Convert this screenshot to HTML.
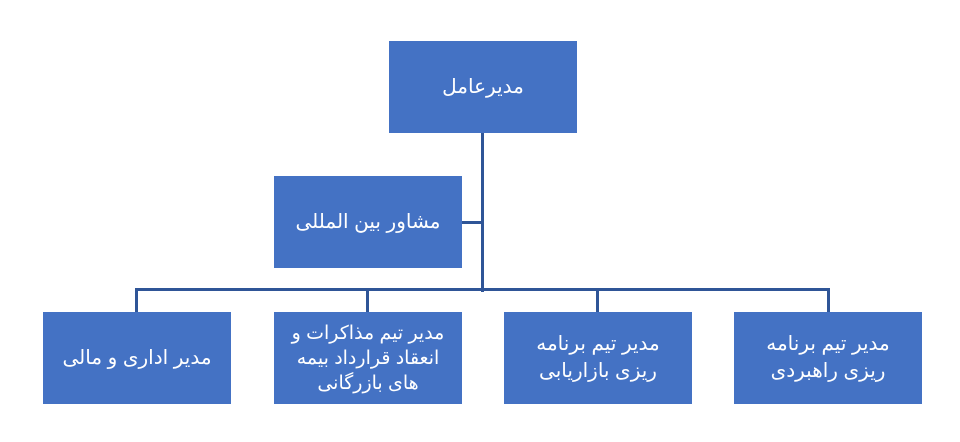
<!DOCTYPE html>
<html><head><meta charset="utf-8"><style>
body{margin:0;width:960px;height:442px;background:#fff;position:relative;overflow:hidden;font-family:"Liberation Sans","DejaVu Sans",sans-serif;}
.b{position:absolute;background:#4472C4;color:#fff;display:flex;align-items:center;justify-content:center;text-align:center;direction:rtl;font-size:20px;line-height:24px;width:188px;height:92px;white-space:nowrap;}
.l{position:absolute;background:#2F5597;}
</style></head><body>
<div class="l" style="left:481px;top:132px;width:3px;height:160px"></div>
<div class="l" style="left:135px;top:288px;width:695px;height:3px"></div>
<div class="l" style="left:461px;top:221px;width:22px;height:3px"></div>
<div class="l" style="left:135px;top:288px;width:3px;height:24px"></div>
<div class="l" style="left:366px;top:288px;width:3px;height:24px"></div>
<div class="l" style="left:596px;top:288px;width:3px;height:24px"></div>
<div class="l" style="left:827px;top:288px;width:3px;height:24px"></div>
<div class="b" style="left:389px;top:41px">مدیرعامل</div>
<div class="b" style="left:274px;top:176px">مشاور بین المللی</div>
<div class="b" style="left:43px;top:312px">مدیر اداری و مالی</div>
<div class="b" style="left:274px;top:312px;line-height:25px;font-size:19px">مدیر تیم مذاکرات و<br>انعقاد قرارداد بیمه<br>های بازرگانی</div>
<div class="b" style="left:504px;top:312px;line-height:27px">مدیر تیم برنامه<br>ریزی بازاریابی</div>
<div class="b" style="left:734px;top:312px;line-height:27px">مدیر تیم برنامه<br>ریزی راهبردی</div>
</body></html>
